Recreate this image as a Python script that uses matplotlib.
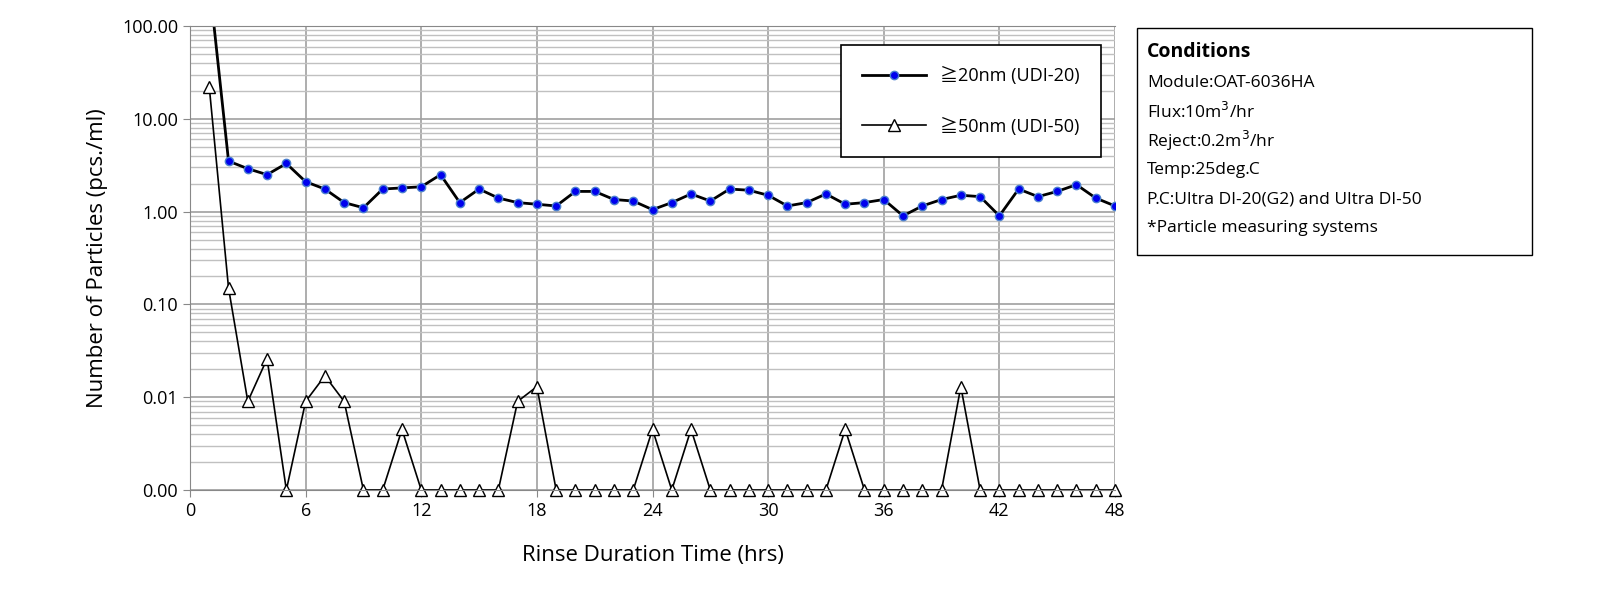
import matplotlib
matplotlib.use("Agg")
import matplotlib.pyplot as plt
from matplotlib.ticker import FixedLocator, LogLocator, NullFormatter

hours = list(range(1, 49))
udi20 = [300, 3.5, 2.9, 2.5, 3.3, 2.1, 1.75, 1.25, 1.1, 1.75, 1.8, 1.85, 2.5, 1.25, 1.75, 1.4,
         1.25, 1.2, 1.15, 1.65, 1.65, 1.35, 1.3, 1.05, 1.25, 1.55, 1.3, 1.75, 1.7, 1.5, 1.15, 1.25,
         1.55, 1.2, 1.25, 1.35, 0.9, 1.15, 1.35, 1.5, 1.45, 0.9, 1.75, 1.45, 1.65, 1.95, 1.4, 1.15]
udi50 = [22, 0.15, 0.009, 0.026, 0.001, 0.009, 0.017, 0.009, 0.001, 0.001, 0.0045, 0.001,
         0.001, 0.001, 0.001, 0.001, 0.009, 0.013, 0.001, 0.001, 0.001, 0.001, 0.001, 0.0045,
         0.001, 0.0045, 0.001, 0.001, 0.001, 0.001, 0.001, 0.001, 0.001, 0.0045, 0.001, 0.001,
         0.001, 0.001, 0.001, 0.013, 0.001, 0.001, 0.001, 0.001, 0.001, 0.001, 0.001, 0.001]
yticks = [0.001, 0.01, 0.1, 1, 10, 100]
ylabels = ["0.00", "0.01", "0.10", "1.00", "10.00", "100.00"]
xticks = list(range(0, 49, 6))
conditions = ["Module:OAT-6036HA", "Flux:10m$^3$/hr", "Reject:0.2m$^3$/hr", "Temp:25deg.C",
              "P.C:Ultra DI-20(G2) and Ultra DI-50", "*Particle measuring systems"]

plt.rcParams["font.family"] = ["Open Sans", "Noto Sans CJK JP", "DejaVu Sans"]
fig = plt.figure(figsize=(16, 6.08), dpi=100)
ax = fig.add_axes([190/1600, 1-490/608, 925/1600, 464/608])
ax.set_yscale("log")
ax.set_ylim(0.001, 100)
ax.set_xlim(0, 48)
ax.yaxis.set_major_locator(FixedLocator(yticks))
ax.set_yticklabels(ylabels)
ax.yaxis.set_minor_locator(LogLocator(base=10, subs=range(2, 10)))
ax.yaxis.set_minor_formatter(NullFormatter())
ax.set_xticks(xticks)
ax.grid(True, which="major", color="#a0a0a0", lw=1.2)
ax.grid(True, which="minor", axis="y", color="#c0c0c0", lw=1)
ax.set_axisbelow(True)
ax.tick_params(axis="both", which="major", labelsize=13, length=5, color="#888")
ax.tick_params(axis="y", which="minor", length=0)
ax.spines["right"].set_visible(False)
for s in ["top", "left", "bottom"]:
    ax.spines[s].set_color("#888")

ax.plot(hours, udi20, color="black", lw=2, marker="o", ms=6, mfc="#0000ee", mec="#4a7fd0",
        label="≧20nm (UDI-20)", clip_on=True)
ax.plot(hours, udi50, color="black", lw=1.2, marker="^", ms=8, mfc="white", mec="black",
        label="≧50nm (UDI-50)", clip_on=False)
ax.set_xlabel("Rinse Duration Time (hrs)", fontsize=16, labelpad=18)
ax.set_ylabel("Number of Particles (pcs./ml)", fontsize=16, labelpad=10)
leg = ax.legend(loc="upper right", bbox_to_anchor=(0.995, 0.978), fontsize=13, frameon=True,
                fancybox=False, edgecolor="black", framealpha=1, borderpad=1.2,
                labelspacing=1.8, handlelength=3.5, handletextpad=0.8)
leg.get_frame().set_linewidth(1.2)

fig.patches.append(plt.Rectangle((1137/1600, 1-255/608), 395/1600, 227/608,
                                 transform=fig.transFigure, fill=False, ec="black", lw=1))
fig.text(1147/1600, 1-52/608, "Conditions", fontsize=14, fontweight="bold", va="center")
for i, t in enumerate(conditions):
    fig.text(1147/1600, 1-(83+i*29)/608, t, fontsize=12.5, va="center")

fig.savefig("out.png")
